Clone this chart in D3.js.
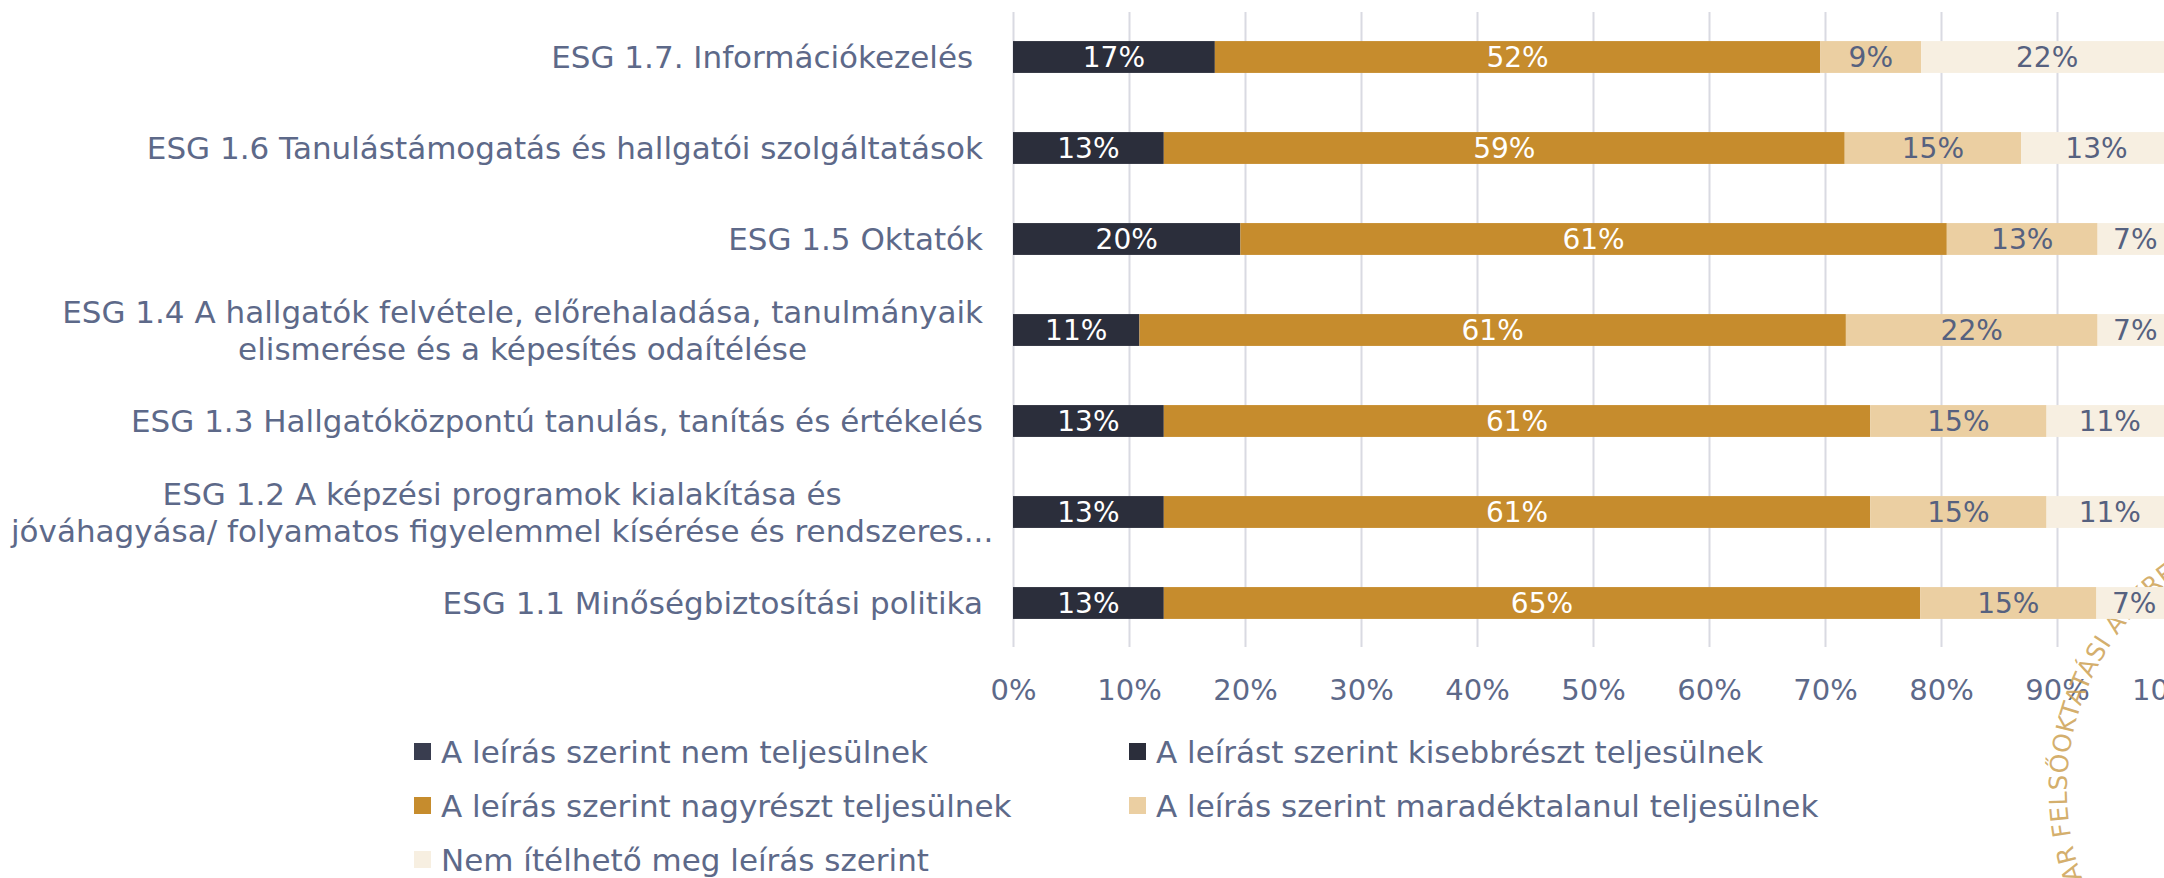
<!DOCTYPE html>
<html>
<head>
<meta charset="utf-8">
<script src="https://cdn.jsdelivr.net/npm/d3@7"></script>
<style>
  html, body { margin: 0; padding: 0; background: #ffffff; }
  svg { display: block; }
</style>
</head>
<body>
<div id="chart"></div>
<script>
// ---------------- DATA ----------------
const categories = [
  "ESG 1.7. Információkezelés ",
  "ESG 1.6 Tanulástámogatás és hallgatói szolgáltatások",
  "ESG 1.5 Oktatók",
  "ESG 1.4 A hallgatók felvétele, előrehaladása, tanulmányaik\nelismerése és a képesítés odaítélése",
  "ESG 1.3 Hallgatóközpontú tanulás, tanítás és értékelés",
  "ESG 1.2 A képzési programok kialakítása és\njóváhagyása/ folyamatos figyelemmel kísérése és rendszeres...",
  "ESG 1.1 Minőségbiztosítási politika"
];
const seriesNames = [
  "A leírás szerint nem teljesülnek",
  "A leírást szerint kisebbrészt teljesülnek",
  "A leírás szerint nagyrészt teljesülnek",
  "A leírás szerint maradéktalanul teljesülnek",
  "Nem ítélhető meg leírás szerint"
];
// values in percent, one per category (same order as categories)
const nemTeljesul     = [0, 0, 0, 0, 0, 0, 0];
const kisebbreszt     = [17.4, 13.0, 19.6, 10.9, 13.0, 13.0, 13.0];
const nagyreszt       = [52.2, 58.7, 60.9, 60.9, 60.9, 60.9, 65.2];
const maradektalanul  = [8.7, 15.2, 13.0, 21.7, 15.2, 15.2, 15.2];
const nemItelheto     = [21.7, 13.0, 6.5, 6.5, 10.9, 10.9, 6.5];
const tickValues = [0, 10, 20, 30, 40, 50, 60, 70, 80, 90, 100];
const watermarkText = "MAGYAR FELSŐOKTATÁSI AKKREDITÁCIÓS BIZOTTSÁG";

// ---------------- STYLE ----------------
const W = 2164, H = 878;
const FONT = "'DejaVu Sans', 'Noto Sans', sans-serif";
const TEXT = "#5d6989";
const barColors = ["#393d4f", "#2b2e3b", "#c68c2d", "#ebcfa2", "#f7efe1"];
const legendColors = ["#393d4f", "#2b2e3b", "#c68c2d", "#ebcfa2", "#f7efe1"];
const labelColors = ["#ffffff", "#ffffff", "#ffffff", "#56617f", "#56617f"];

const seriesValues = [nemTeljesul, kisebbreszt, nagyreszt, maradektalanul, nemItelheto];
const table = categories.map((c, i) => {
  const row = { cat: c };
  seriesNames.forEach((s, k) => row[s] = seriesValues[k][i]);
  return row;
});

const svg = d3.select("#chart").append("svg")
  .attr("width", W).attr("height", H)
  .attr("viewBox", `0 0 ${W} ${H}`)
  .style("font-family", FONT);

const x = d3.scaleLinear().domain([0, 100]).range([1013, 2173]);
const y = d3.scaleBand().domain(categories).range([11.5, 648.5])
  .paddingInner(0.65).paddingOuter(0.325);

// gridlines + axis
const axisG = svg.append("g")
  .attr("transform", `translate(0,647)`)
  .call(d3.axisBottom(x).tickValues(tickValues).tickSize(-635).tickPadding(32)
    .tickFormat(d => d + "%"));
axisG.select(".domain").remove();
axisG.selectAll(".tick line").attr("stroke", "#d9dae2").attr("stroke-width", 2);
axisG.selectAll(".tick text")
  .attr("fill", TEXT).style("font-size", "29px").style("font-family", FONT);

// watermark (circular text), behind the bars
const wcx = 2330, wcy = 790, wr = 263;
const p = d3.path();
p.arc(wcx, wcy, wr, 144.7 * Math.PI / 180, 340 * Math.PI / 180, false);
svg.append("defs").append("path").attr("id", "wmPath").attr("d", p.toString());
svg.append("text")
  .attr("fill", "#cda153").attr("fill-opacity", 0.85)
  .style("font-size", "25px").style("letter-spacing", "0.5px")
  .append("textPath").attr("href", "#wmPath")
  .text(watermarkText);

// stacked bars
const stack = d3.stack().keys(seriesNames);
const stacked = stack(table);

const layers = svg.append("g").selectAll("g")
  .data(stacked).join("g")
  .attr("fill", (d, i) => barColors[i]);

layers.selectAll("rect")
  .data(d => d.filter(q => q[1] - q[0] > 0))
  .join("rect")
  .attr("x", q => x(q[0]))
  .attr("y", q => y(q.data.cat))
  .attr("width", q => x(q[1]) - x(q[0]))
  .attr("height", y.bandwidth());

// data labels
const labelG = svg.append("g");
stacked.forEach((layer, k) => {
  labelG.selectAll(null)
    .data(layer.filter(q => q[1] - q[0] > 0))
    .join("text")
    .attr("x", q => (x(q[0]) + x(q[1])) / 2)
    .attr("y", q => y(q.data.cat) + y.bandwidth() / 2)
    .attr("dy", "0.36em")
    .attr("text-anchor", "middle")
    .attr("fill", labelColors[k])
    .style("font-size", "28px")
    .text(q => Math.round(q[1] - q[0]) + "%");
});

// category labels
const catRight = 983, catLeft = 11, lineGap = 37;
const catG = svg.append("g");
categories.forEach(c => {
  const lines = c.split("\n");
  const cy = y(c) + y.bandwidth() / 2;
  const t = catG.append("text")
    .attr("fill", TEXT)
    .style("font-size", "31px")
    .style("white-space", "pre");
  const tspans = lines.map((ln, i) => t.append("tspan")
    .attr("y", cy + (i - (lines.length - 1) / 2) * lineGap)
    .attr("dy", "0.36em")
    .text(ln));
  if (lines.length === 1) {
    t.attr("text-anchor", "end");
    tspans[0].attr("x", catRight);
  } else {
    const wmax = d3.max(tspans, s => s.node().getComputedTextLength());
    const cx = Math.max(catRight - wmax / 2, catLeft + wmax / 2);
    t.attr("text-anchor", "middle");
    tspans.forEach(s => s.attr("x", cx));
  }
});

// legend
const legendPos = [[414, 752], [1129, 752], [414, 806], [1129, 806], [414, 860]];
const legG = svg.append("g");
seriesNames.forEach((s, i) => {
  const [lx, ly] = legendPos[i];
  legG.append("rect").attr("x", lx).attr("y", ly - 9).attr("width", 17).attr("height", 17)
    .attr("fill", legendColors[i]);
  legG.append("text").attr("x", lx + 27).attr("y", ly).attr("dy", "0.36em")
    .attr("fill", TEXT).style("font-size", "31px").text(s);
});
</script>
</body>
</html>
